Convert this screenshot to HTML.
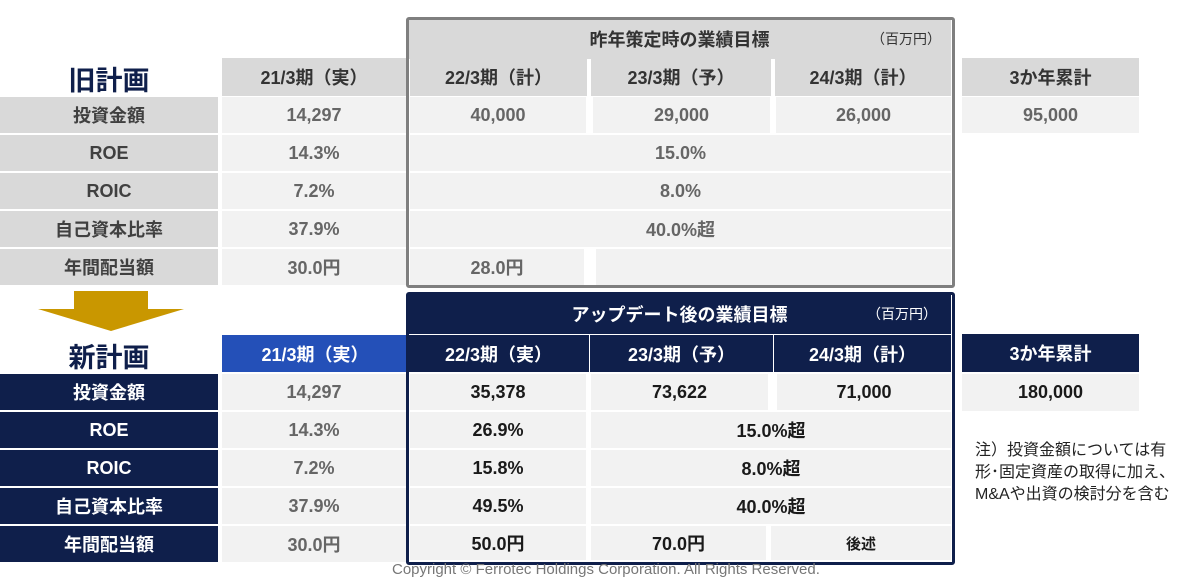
<!DOCTYPE html>
<html><head><meta charset="utf-8"><style>
body{margin:0;width:1197px;height:579px;overflow:hidden;background:#fff;position:relative;font-family:"Liberation Sans","Noto Sans CJK JP",sans-serif}
.c{position:absolute;display:flex;align-items:center;justify-content:center;font-weight:bold;font-size:18px;box-sizing:border-box}
.ol{background:#d9d9d9;color:#404040}
.ov{background:#f2f2f2;color:#666}
.nl{background:#0f1f4b;color:#fff}
.nv{background:#f2f2f2;color:#1a1a1a}
.nvg{background:#f2f2f2;color:#666}
</style></head><body>
<div class="c" style="left:408px;top:19px;width:543px;height:40px;background:#d9d9d9;color:#333">昨年策定時の業績目標<span style="position:absolute;right:10px;font-size:14px;font-weight:normal">（百万円）</span></div>
<div class="c" style="left:0;top:58px;width:218px;height:40px;font-size:27px;color:#0f1f4b">旧計画</div>
<div class="c ol" style="left:222px;top:58px;width:184px;height:38px;color:#333">21/3期（実）</div>
<div class="c ol" style="left:410px;top:58px;width:177px;height:38px;color:#333">22/3期（計）</div>
<div class="c ol" style="left:591px;top:58px;width:180px;height:38px;color:#333">23/3期（予）</div>
<div class="c ol" style="left:775px;top:58px;width:176px;height:38px;color:#333">24/3期（計）</div>
<div class="c ol" style="left:962px;top:58px;width:177px;height:38px;color:#333">3か年累計</div>

<div class="c ol" style="left:0;top:97px;width:218px;height:36px">投資金額</div>
<div class="c ov" style="left:222px;top:97px;width:184px;height:36px">14,297</div>
<div class="c ov" style="left:410px;top:97px;width:176px;height:36px">40,000</div>
<div class="c ov" style="left:593px;top:97px;width:177px;height:36px">29,000</div>
<div class="c ov" style="left:776px;top:97px;width:175px;height:36px">26,000</div>
<div class="c ov" style="left:962px;top:97px;width:177px;height:36px">95,000</div>

<div class="c ol" style="left:0;top:135px;width:218px;height:36px">ROE</div>
<div class="c ov" style="left:222px;top:135px;width:184px;height:36px">14.3%</div>
<div class="c ov" style="left:410px;top:135px;width:541px;height:36px">15.0%</div>

<div class="c ol" style="left:0;top:173px;width:218px;height:36px">ROIC</div>
<div class="c ov" style="left:222px;top:173px;width:184px;height:36px">7.2%</div>
<div class="c ov" style="left:410px;top:173px;width:541px;height:36px">8.0%</div>

<div class="c ol" style="left:0;top:211px;width:218px;height:36px">自己資本比率</div>
<div class="c ov" style="left:222px;top:211px;width:184px;height:36px">37.9%</div>
<div class="c ov" style="left:410px;top:211px;width:541px;height:36px">40.0%超</div>

<div class="c ol" style="left:0;top:249px;width:218px;height:36px">年間配当額</div>
<div class="c ov" style="left:222px;top:249px;width:184px;height:36px">30.0円</div>
<div class="c ov" style="left:410px;top:249px;width:174px;height:36px">28.0円</div>
<div class="c ov" style="left:596px;top:249px;width:355px;height:36px"></div>
<div style="position:absolute;left:406px;top:17px;width:543px;height:265px;border:3px solid #7f7f7f;border-radius:3px"></div>

<svg style="position:absolute;left:36px;top:291px" width="150" height="40"><polygon points="38,0 112,0 112,18 148,18 75,40 2,18 38,18" fill="#c99700"/></svg>

<div class="c nl" style="left:408px;top:294px;width:543px;height:40px">アップデート後の業績目標<span style="position:absolute;right:14px;font-size:14px;font-weight:normal">（百万円）</span></div>
<div class="c" style="left:0;top:335px;width:218px;height:40px;font-size:27px;color:#0f1f4b">新計画</div>
<div class="c" style="left:222px;top:335px;width:186px;height:37px;background:#2450b8;color:#fff">21/3期（実）</div>
<div class="c nl" style="left:408px;top:335px;width:181px;height:37px">22/3期（実）</div>
<div class="c nl" style="left:590px;top:335px;width:183px;height:37px">23/3期（予）</div>
<div class="c nl" style="left:774px;top:335px;width:177px;height:37px">24/3期（計）</div>
<div class="c nl" style="left:962px;top:334px;width:177px;height:38px">3か年累計</div>

<div class="c nl" style="left:0;top:374px;width:218px;height:36px">投資金額</div>
<div class="c nvg" style="left:222px;top:374px;width:184px;height:36px">14,297</div>
<div class="c nv" style="left:410px;top:374px;width:176px;height:36px">35,378</div>
<div class="c nv" style="left:591px;top:374px;width:177px;height:36px">73,622</div>
<div class="c nv" style="left:777px;top:374px;width:174px;height:36px">71,000</div>
<div class="c nv" style="left:962px;top:374px;width:177px;height:37px">180,000</div>

<div class="c nl" style="left:0;top:412px;width:218px;height:36px">ROE</div>
<div class="c nvg" style="left:222px;top:412px;width:184px;height:36px">14.3%</div>
<div class="c nv" style="left:410px;top:412px;width:176px;height:36px">26.9%</div>
<div class="c nv" style="left:591px;top:412px;width:360px;height:36px">15.0%超</div>

<div class="c nl" style="left:0;top:450px;width:218px;height:36px">ROIC</div>
<div class="c nvg" style="left:222px;top:450px;width:184px;height:36px">7.2%</div>
<div class="c nv" style="left:410px;top:450px;width:176px;height:36px">15.8%</div>
<div class="c nv" style="left:591px;top:450px;width:360px;height:36px">8.0%超</div>

<div class="c nl" style="left:0;top:488px;width:218px;height:36px">自己資本比率</div>
<div class="c nvg" style="left:222px;top:488px;width:184px;height:36px">37.9%</div>
<div class="c nv" style="left:410px;top:488px;width:176px;height:36px">49.5%</div>
<div class="c nv" style="left:591px;top:488px;width:360px;height:36px">40.0%超</div>

<div class="c nl" style="left:0;top:526px;width:218px;height:36px">年間配当額</div>
<div class="c nvg" style="left:222px;top:526px;width:184px;height:36px">30.0円</div>
<div class="c nv" style="left:410px;top:526px;width:176px;height:34px">50.0円</div>
<div class="c nv" style="left:591px;top:526px;width:175px;height:34px">70.0円</div>
<div class="c nv" style="left:771px;top:526px;width:180px;height:34px;font-size:15px">後述</div>
<div style="position:absolute;left:406px;top:292px;width:543px;height:267px;border:3px solid #0f1f4b;border-radius:3px"></div>

<div style="position:absolute;left:975px;top:440px;font-size:16px;line-height:22px;color:#222;white-space:nowrap">注）投資金額については有<br>形･固定資産の取得に加え、<br>M&amp;Aや出資の検討分を含む</div>
<div style="position:absolute;left:392px;top:561px;font-size:15px;color:#777;white-space:nowrap">Copyright © Ferrotec Holdings Corporation. All Rights Reserved.</div>
</body></html>
